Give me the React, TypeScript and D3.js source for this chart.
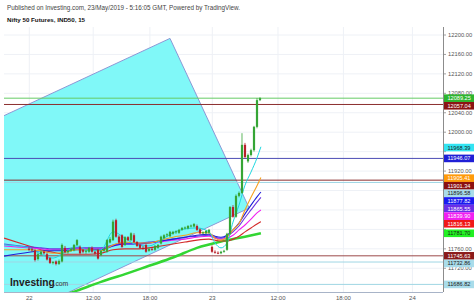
import React from "react";
import * as d3 from "d3";

const publishedText = "Published on Investing.com, 23/May/2019 - 5:16:05 GMT, Powered by TradingView.";
const titleText = "Nifty 50 Futures, IND50, 15";

// 15-minute bars (index 0..77)
const barOpen = [11760,11759,11757,11739,11749,11754,11749,11741,11732,11734,11729,11734,11762,11753,11756,11757,11768,11764,11758,11754,11754,11762,11754,11758,11747,11756,11754,11773,11778,11819,11785,11788,11768,11784,11778,11788,11774,11768,11762,11768,11756,11760,11758,11762,11771,11782,11788,11786,11791,11795,11793,11799,11803,11802,11807,11806,11807,11800,11792,11792,11793,11764,11754,11752,11751,11754,11758,11791,11846,11826,11869,11875,11974,11940,11953,11963,12011,12066];
const barHigh = [11764,11762,11759,11752,11757,11756,11752,11743,11735,11736,11738,11771,11766,11758,11762,11770,11780,11767,11760,11758,11764,11765,11756,11760,11758,11762,11780,11784,11820,11822,11788,11790,11786,11786,11794,11792,11776,11770,11766,11770,11762,11764,11768,11770,11787,11790,11792,11797,11797,11798,11801,11805,11806,11809,11810,11813,11810,11802,11796,11798,11801,11767,11757,11755,11756,11758,11793,11848,11850,11872,11878,11998,11978,11956,11966,12013,12070,12072];
const barLow = [11756,11754,11734,11736,11747,11748,11736,11729,11728,11726,11727,11732,11751,11750,11754,11755,11766,11749,11751,11750,11752,11752,11748,11738,11745,11754,11752,11771,11776,11783,11770,11762,11766,11776,11776,11772,11764,11760,11758,11752,11754,11756,11756,11760,11769,11780,11784,11784,11789,11791,11791,11797,11800,11800,11804,11804,11797,11790,11790,11790,11791,11752,11750,11749,11749,11752,11756,11789,11824,11824,11866,11873,11946,11937,11950,11960,12008,12064];
const barClose = [11759,11757,11737,11749,11754,11751,11738,11731,11733,11729,11735,11768,11753,11756,11760,11768,11778,11751,11754,11756,11762,11754,11750,11740,11756,11760,11778,11780,11816,11785,11773,11764,11784,11778,11792,11774,11766,11762,11760,11754,11760,11758,11766,11768,11785,11788,11790,11795,11795,11796,11799,11803,11804,11807,11808,11811,11799,11792,11794,11797,11799,11754,11752,11751,11754,11756,11791,11846,11826,11869,11875,11974,11949,11953,11963,12011,12066,12070];

// moving averages, sampled at bar positions
const maIndex = [-8.3,0,4,8,12,16,20,24,28,32,36,40,44,48,52,56,60,62,64,66,68,70,72,74,76,77.3];
const maRed = [11782,11766,11758,11753,11749,11749,11749,11751,11758,11760,11760,11762,11766,11770,11774,11778,11780,11778,11776,11776,11780,11786,11795,11803,11811,11816];
const maMagenta = [11766,11762,11760,11758,11758,11760,11760,11760,11766,11770,11770,11772,11774,11778,11780,11784,11786,11782,11780,11782,11788,11799,11809,11821,11834,11840];
const maPurple = [11770,11764,11762,11760,11760,11762,11762,11762,11768,11772,11772,11774,11776,11780,11784,11786,11788,11784,11782,11786,11795,11807,11824,11840,11856,11866];
const maBlue = [11745,11753,11756,11756,11756,11758,11758,11758,11766,11770,11770,11772,11776,11780,11784,11788,11790,11786,11784,11788,11799,11813,11832,11850,11867,11877];
const maOrange = [11758,11758,11756,11751,11753,11758,11758,11756,11768,11774,11772,11772,11778,11784,11788,11793,11793,11782,11778,11784,11799,11812,11840,11866,11890,11907];
const maCyan = [11768,11762,11749,11741,11753,11766,11756,11758,11795,11782,11768,11766,11778,11793,11801,11803,11795,11772,11762,11772,11815,11850,11891,11918,11947,11970];
const greenIndex = [8,16,24,32,40,48,56,64,72,77.3];
const maGreen = [11657,11674,11692,11708,11725,11742,11762,11775,11785,11792];

// rotated rectangle drawing (bar index, price)
const rectIndex = [47, 73.4, -59.9, -86.3];
const rectPrice = [12193, 11844, 11460, 11810];

// horizontal lines
const hLineValues = [12070, 12057.04, 11946.07, 11901.34, 11896.58, 11745.63, 11732.86, 11686.82];
const hLineColors = ["#66cc66", "#8b2e2e", "#4b4bb5", "#8b2e2e", "#9fd6e4", "#9c4a4a", "#9fd6e4", "#9fd6e4"];

// price-scale labels
const labelTexts = ["12089.25","12057.04","11968.39","11946.07","11905.41","11901.34","11896.58","11877.82","11865.55","11839.90","11816.13","11781.70","11745.63","11732.86","11686.82"];
const labelAnchors = [12070,12057.04,11968.39,11946.07,11905.41,11901.34,11896.58,11877.82,11865.55,11839.90,11816.13,11792,11745.63,11732.86,11686.82];
const labelBg = ["#2db52d","#8b1414","#33e4f2","#1f1fd6","#ff9a0a","#8b1010","#a9dcea","#1a1af0","#6a2ee6","#f21ef2","#f01818","#22f022","#8b1a1a","#a9dcea","#a9dcea"];
const labelFg = ["#ffffff","#ffffff","#1a1a1a","#ffffff","#ffffff","#ffffff","#1a1a1a","#ffffff","#ffffff","#ffffff","#ffffff","#1a1a1a","#ffffff","#1a1a1a","#1a1a1a"];

const yTickValues = [11720,11760,11800,11840,11880,11920,11960,12000,12040,12080,12120,12160,12200];
const xTickIndex = [0.1, 21.4, 40.3, 61.1, 83, 104.8, 127.8];
const xTickLabels = ["22","12:00","18:00","23","12:00","18:00","24"];

const FONT = "'Liberation Sans', Arial, Helvetica, sans-serif";

export default function App() {
  const plotL = 4, plotR = 443, plotT = 27, plotB = 292;
  const x = d3.scaleLinear().domain([-8.3333, 138]).range([plotL, plotR]);
  const y = d3.scaleLinear().domain([11720, 12200]).range([268.28, 35]);

  const maLine = d3.line<[number, number]>().x(d => x(d[0])).y(d => y(d[1])).curve(d3.curveMonotoneX);
  const mk = (idx: number[], vals: number[]) => maLine(idx.map((v, k) => [v, vals[k]] as [number, number])) || "";

  const rectPts = rectIndex.map((v, k) => `${x(v)},${y(rectPrice[k])}`).join(" ");

  const gap = 7.6;
  const placed = labelTexts
    .map((t, k) => ({ text: t, cy: y(labelAnchors[k]), bg: labelBg[k], fg: labelFg[k] }))
    .sort((a, b) => a.cy - b.cy);
  for (let k = 1; k < placed.length; k++) {
    if (placed[k].cy < placed[k - 1].cy + gap) placed[k].cy = placed[k - 1].cy + gap;
  }
  // axis ticks whose text is fully covered by a coloured label are not visible
  const visibleTicks = yTickValues.filter(v => !placed.some(l => Math.abs(l.cy - y(v)) < 4.6));

  const bw = 2.2;
  const mas: [number[], number[], string, number][] = [
    [maIndex, maRed, "#d42a2a", 1.1],
    [maIndex, maMagenta, "#f020f0", 1.1],
    [maIndex, maPurple, "#6a35e0", 1.1],
    [maIndex, maBlue, "#2020d8", 1.1],
    [maIndex, maOrange, "#f7a020", 1.1],
    [maIndex, maCyan, "#1fd8e0", 1],
  ];

  return (
    <svg width={474} height={304} style={{ position: "absolute", left: 0, top: 0, background: "#fff" }} fontFamily={FONT}>
      <defs>
        <clipPath id="plotClip">
          <rect x={plotL} y={plotT} width={plotR - plotL} height={plotB - plotT} />
        </clipPath>
      </defs>
      <rect x={0} y={0} width={474} height={304} fill="#ffffff" />
      <text x={7} y={10.3} fontSize={6.3} fill="#444">{publishedText}</text>
      <text x={7} y={22} fontSize={6.2} fontWeight="bold" fill="#111">{titleText}</text>

      <g clipPath="url(#plotClip)">
        {yTickValues.map(v => (
          <line key={"gy" + v} x1={plotL} x2={plotR} y1={y(v)} y2={y(v)} stroke="#eef1f6" strokeWidth={1} />
        ))}
        {xTickIndex.map((v, k) => (
          <line key={"gx" + k} x1={x(v)} x2={x(v)} y1={plotT} y2={plotB} stroke="#eef1f6" strokeWidth={1} />
        ))}
        <polygon points={rectPts} fill="#80f8f8" stroke="#8a98d6" strokeWidth={1} />
        {hLineValues.map((v, k) => (
          <line key={"h" + k} x1={plotL} x2={plotR} y1={y(v)} y2={y(v)} stroke={hLineColors[k]} strokeWidth={1} />
        ))}
        <path d={mk(greenIndex, maGreen)} fill="none" stroke="#33d633" strokeWidth={2.6} />
        {mas.map(([idx, vals, col, w], k) => (
          <path key={"ma" + k} d={mk(idx, vals)} fill="none" stroke={col} strokeWidth={w} />
        ))}
        {barOpen.map((o, i) => {
          const c = barClose[i];
          const up = c >= o;
          const col = up ? "#35a535" : "#b8202a";
          const cx = x(i);
          const top = y(Math.max(o, c));
          const bot = y(Math.min(o, c));
          return (
            <g key={"b" + i}>
              <line x1={cx} x2={cx} y1={y(barHigh[i])} y2={y(barLow[i])} stroke={col} strokeWidth={0.8} />
              <rect x={cx - bw / 2} y={top} width={bw} height={Math.max(1, bot - top)} fill={col} />
            </g>
          );
        })}
        <text x={10} y={286} fontSize={10.2} fontWeight="bold" fill="#1e1e1e">Investing</text>
        <text x={53.5} y={286} fontSize={6.8} fill="#333">.com</text>
      </g>

      <line x1={plotR + 0.5} x2={plotR + 0.5} y1={plotT} y2={plotB} stroke="#8c8c8c" strokeWidth={1} />
      <line x1={plotL} x2={plotR} y1={plotB + 0.5} y2={plotB + 0.5} stroke="#a8b4c8" strokeWidth={1} />

      {yTickValues.map(v => (
        <line key={"ytm" + v} x1={plotR} x2={plotR + 3} y1={y(v)} y2={y(v)} stroke="#888" strokeWidth={0.8} />
      ))}
      {visibleTicks.map(v => (
        <text key={"yt" + v} x={448} y={y(v)} dy="0.35em" fontSize={5.8} fill="#555">{v.toFixed(2)}</text>
      ))}
      {xTickIndex.map((v, k) => (
        <text key={"xt" + k} x={x(v)} y={300} textAnchor="middle" fontSize={6} fill="#555">{xTickLabels[k]}</text>
      ))}

      {placed.map((l, k) => (
        <g key={"lab" + k}>
          <rect x={plotR + 1} y={l.cy - gap / 2} width={474 - plotR - 1} height={gap} fill={l.bg} />
          <text x={447.5} y={l.cy} dy="0.35em" fontSize={5.6} fill={l.fg}>{l.text}</text>
        </g>
      ))}
    </svg>
  );
}
